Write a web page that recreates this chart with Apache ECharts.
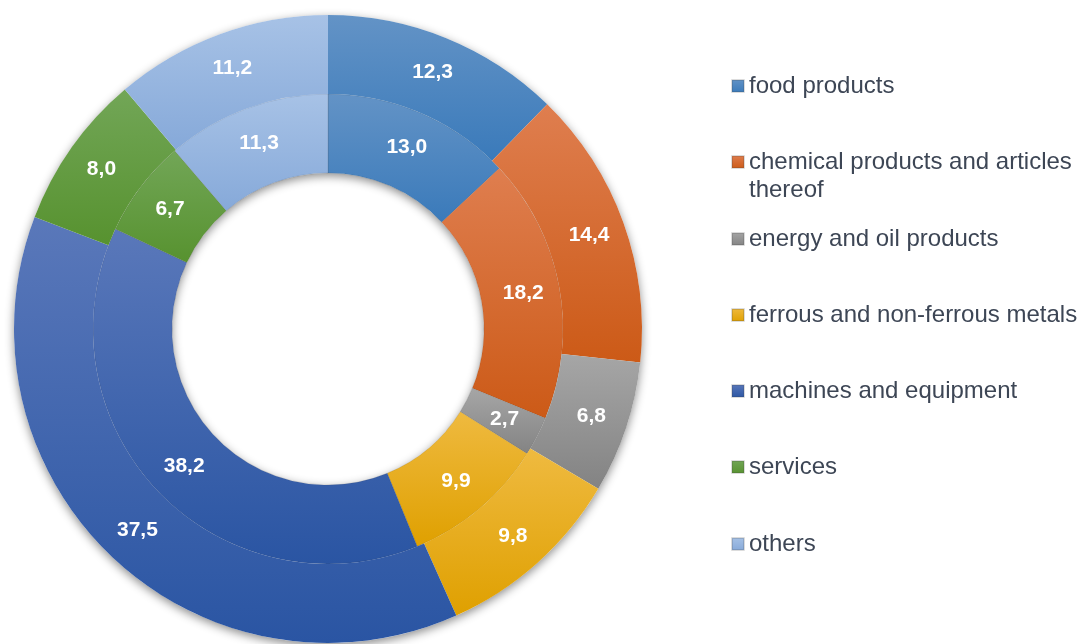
<!DOCTYPE html>
<html>
<head>
<meta charset="utf-8">
<script src="https://cdn.jsdelivr.net/npm/echarts@6/dist/echarts.min.js"></script>
<style>
  html, body { margin: 0; padding: 0; background: #fff; }
  #chart { width: 1080px; height: 644px; }
</style>
</head>
<body>
<div id="chart"></div>
<script>
// categories and shares (inner ring / outer ring)
const categories = [
  'food products',
  'chemical products and articles thereof',
  'energy and oil products',
  'ferrous and non-ferrous metals',
  'machines and equipment',
  'services',
  'others'
]
const innerValues = [13.0, 18.2, 2.7, 9.9, 38.2, 6.7, 11.3]
const outerValues = [12.3, 14.4, 6.8, 9.8, 37.5, 8.0, 11.2]

// top / bottom colour of each slice gradient
const topColors = ['#6393c6', '#df7e4f', '#a6a6a6', '#efba40', '#5a78ba', '#72a657', '#a7c2e6']
const bottomColors = ['#3a7aba', '#cc5a17', '#838383', '#dfa000', '#2a55a3', '#57922f', '#86a9d9']

// legend icon centres (y)
const legendY = [86, 162, 239, 315, 391, 467, 544]

const chart = echarts.init(document.getElementById('chart'))

function grad(i) {
  return new echarts.graphic.LinearGradient(0, 0, 0, 1, [
    { offset: 0, color: topColors[i] },
    { offset: 1, color: bottomColors[i] }
  ])
}

function ringData(values) {
  return values.map((v, i) => ({
    name: categories[i],
    value: v,
    itemStyle: { color: grad(i) }
  }))
}

const labelStyle = {
  show: true,
  position: 'inside',
  color: '#fff',
  fontFamily: 'Arial, "Liberation Sans", sans-serif',
  fontWeight: 'bold',
  fontSize: 21,
  formatter: p => p.value.toFixed(1).replace('.', ',')
}

// one legend per item so they sit at the same spots as the picture
const legends = categories.map((name, i) => {
  const multi = i === 1
  return {
    data: [name],
    orient: 'vertical',
    left: 731,
    top: multi ? legendY[i] - 42 : legendY[i] - 14,
    padding: 0,
    icon: 'rect',
    itemWidth: 12,
    itemHeight: 12,
    itemGap: 0,
    selectedMode: false,
    // blank first line keeps the icon level with the first text line
    formatter: n => n === categories[1] ? ' \nchemical products and articles\nthereof' : n,
    textStyle: {
      color: '#3d4655',
      fontFamily: 'Arial, "Liberation Sans", sans-serif',
      fontSize: 24,
      lineHeight: 28
    }
  }
})

const option = {
  animation: false,
  legend: legends,
  series: [
    {
      // plain ring behind both rings, only used for the soft shadow
      type: 'pie',
      silent: true,
      center: [328, 329],
      radius: [156, 314],
      startAngle: 90,
      label: { show: false },
      labelLine: { show: false },
      itemStyle: {
        color: '#ffffff',
        shadowBlur: 10,
        shadowOffsetY: 3,
        shadowColor: 'rgba(0,0,0,0.45)'
      },
      data: [{ name: '_bg', value: 1 }]
    },
    {
      name: 'inner',
      type: 'pie',
      center: [328, 329],
      radius: [156, 235],
      startAngle: 90,
      label: labelStyle,
      labelLine: { show: false },
      itemStyle: { borderColor: 'rgba(60,60,60,0.18)', borderWidth: 0.8 },
      emphasis: { disabled: true },
      data: ringData(innerValues)
    },
    {
      name: 'outer',
      type: 'pie',
      center: [328, 329],
      radius: [235, 314],
      startAngle: 90,
      label: labelStyle,
      labelLine: { show: false },
      itemStyle: { borderWidth: 0 },
      emphasis: { disabled: true },
      data: ringData(outerValues)
    }
  ]
}

chart.setOption(option)
</script>
</body>
</html>
